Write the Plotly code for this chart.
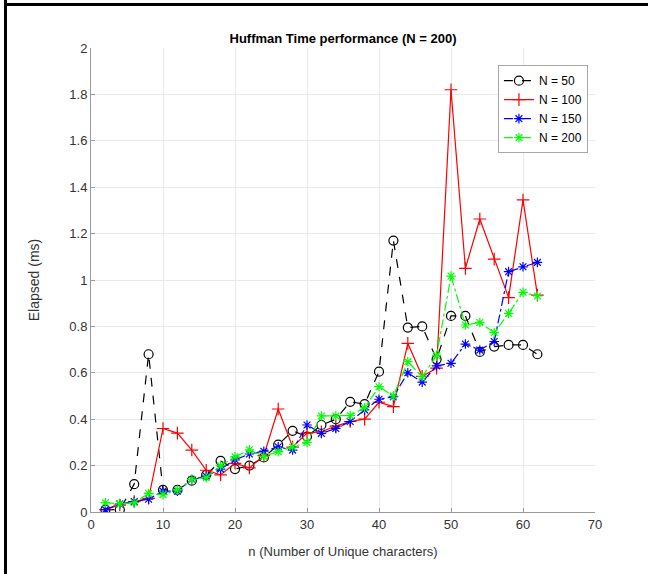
import plotly.graph_objects as go

n_unique = [2, 4, 6, 8, 10, 12, 14, 16, 18, 20, 22, 24, 26, 28, 30, 32, 34, 36, 38, 40,
            42, 44, 46, 48, 50, 52, 54, 56, 58, 60, 62]

t_n50 = [0.01, 0.01, 0.12, 0.68, 0.095, 0.095, 0.135, 0.16, 0.22, 0.185, 0.20, 0.235, 0.29, 0.35,
         0.325, 0.375, 0.40, 0.475, 0.465, 0.605, 1.17, 0.795, 0.80, 0.658, 0.845, 0.845, 0.69,
         0.713, 0.72, 0.72, 0.68]
t_n100 = [0.01, 0.03, 0.045, 0.059, 0.36, 0.34, 0.267, 0.18, 0.16, 0.21, 0.19, 0.243, 0.444, 0.28,
          0.34, 0.346, 0.37, 0.39, 0.40, 0.473, 0.454, 0.727, 0.585, 0.62, 1.82, 1.05, 1.263,
          1.09, 0.924, 1.345, 0.935]
t_n150 = [0.01, 0.035, 0.045, 0.055, 0.09, 0.09, 0.14, 0.155, 0.185, 0.225, 0.25, 0.262, 0.281,
          0.267, 0.375, 0.339, 0.36, 0.39, 0.44, 0.486, 0.497, 0.60, 0.56, 0.63, 0.641, 0.724,
          0.698, 0.735, 1.036, 1.057, 1.076]
t_n200 = [0.04, 0.035, 0.04, 0.08, 0.075, 0.095, 0.14, 0.148, 0.20, 0.238, 0.268, 0.24, 0.26, 0.28,
          0.30, 0.414, 0.414, 0.416, 0.45, 0.54, 0.50, 0.648, 0.583, 0.675, 1.017, 0.806, 0.817,
          0.773, 0.856, 0.947, 0.931]

series_names = ["N = 50", "N = 100", "N = 150", "N = 200"]
x_ticks = [0, 10, 20, 30, 40, 50, 60, 70]
y_ticks = [0, 0.2, 0.4, 0.6, 0.8, 1, 1.2, 1.4, 1.6, 1.8, 2]

FONT = "Liberation Sans Narrow, Arial Narrow, Liberation Sans, Arial, sans-serif"

styles = [
    dict(color="black", dash="dash", symbol="circle-open", size=9),
    dict(color="#ff0000", dash="solid", symbol="cross-thin-open", size=9),
    dict(color="#0000ff", dash="dashdot", symbol="asterisk-open", size=8),
    dict(color="#00ff00", dash="dashdot", symbol="asterisk-open", size=8),
]

fig = go.Figure()
for name, ys, st in zip(series_names, [t_n50, t_n100, t_n150, t_n200], styles):
    fig.add_trace(go.Scatter(
        x=n_unique, y=ys, name=name, mode="lines+markers",
        line=dict(color=st["color"], width=1.2, dash=st["dash"]),
        marker=dict(symbol=st["symbol"], size=st["size"], color=st["color"],
                    line=dict(color=st["color"], width=1.2)),
    ))

axis_common = dict(
    showgrid=True, gridcolor="#e9e9e9", gridwidth=1,
    showline=True, linecolor="#9a9a9a", linewidth=1,
    ticks="inside", ticklen=4, tickcolor="#9a9a9a",
    tickfont=dict(family=FONT, size=13, color="#333333"),
    zeroline=False, mirror=False,
)

fig.update_layout(
    width=648, height=574,
    margin=dict(l=91, r=53, t=48, b=62),
    paper_bgcolor="white", plot_bgcolor="white",
    title=dict(text="<b>Huffman Time performance (N = 200)</b>",
               font=dict(family=FONT, size=13, color="black"),
               x=343 / 648, xanchor="center", y=1 - 38 / 574, yanchor="middle"),
    xaxis=dict(range=[0, 70], tickvals=x_ticks,
               title=dict(text="n (Number of Unique characters)",
                          font=dict(family=FONT, size=13, color="#333333"), standoff=16),
               **axis_common),
    yaxis=dict(range=[0, 2], tickvals=y_ticks,
               title=dict(text="Elapsed (ms)",
                          font=dict(family=FONT, size=14, color="#333333"), standoff=26),
               **axis_common),
    legend=dict(x=0.986, xanchor="right", y=0.963, yanchor="top",
                bgcolor="white", bordercolor="#a8a8a8", borderwidth=1,
                font=dict(family=FONT, size=12, color="black"),
                tracegroupgap=0),
    showlegend=True,
)

# outer frame lines (top and left) of the original figure image
fig.add_shape(type="line", xref="paper", yref="paper",
              x0=(5.5 - 91) / 504, x1=(648 - 91) / 504,
              y0=(512 - 4.5) / 464, y1=(512 - 4.5) / 464,
              line=dict(color="black", width=3))
fig.add_shape(type="line", xref="paper", yref="paper",
              x0=(5.5 - 91) / 504, x1=(5.5 - 91) / 504,
              y0=(512 - 0) / 464, y1=(512 - 574) / 464,
              line=dict(color="black", width=3))

fig.write_html("out.html", config={"displayModeBar": False},
               post_script="document.body.style.margin='0';")
